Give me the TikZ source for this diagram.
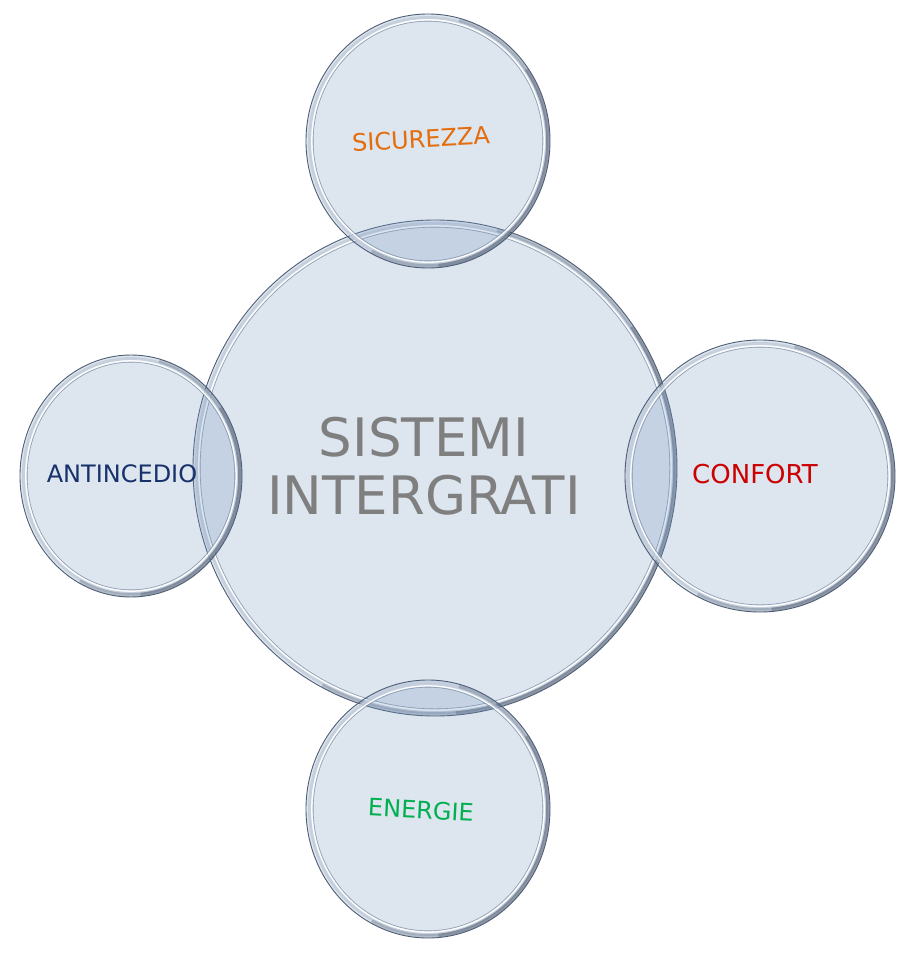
\documentclass[tikz,border=0pt]{standalone}
\usepackage{fontspec}
\setmainfont{DejaVu Sans}
\definecolor{bfill}{HTML}{7B9BC3}
\definecolor{bline}{HTML}{4F5E74}
\definecolor{brim}{HTML}{C3CDDA}
\definecolor{binner}{HTML}{8393A9}
\definecolor{bshadow}{HTML}{36445A}
\definecolor{corange}{HTML}{E46C0A}
\definecolor{cnavy}{HTML}{17326B}
\definecolor{cred}{HTML}{CC0000}
\definecolor{cgreen}{HTML}{00B050}
\definecolor{cgray}{HTML}{7F7F7F}
\newcommand\mybubble[5]{%
  \coordinate (#1) at (#2,#3);
  \fill[bfill, fill opacity=0.25] (#1) ellipse [x radius=#4, y radius=#5];
  \draw[brim, line width=3, opacity=0.85] (#1) ellipse [x radius=#4-3.5, y radius=#5-3.5];
  \draw[bshadow, line width=3.6, opacity=0.25] (#1) ++(-75:#4-2 and #5-2) arc[start angle=-75, end angle=118, x radius=#4-2, y radius=#5-2];
  \draw[bshadow, line width=3.6, opacity=0.3] (#1) ++(-35:#4-2 and #5-2) arc[start angle=-35, end angle=85, x radius=#4-2, y radius=#5-2];
  \draw[white, line width=1.3, opacity=0.95] (#1) ellipse [x radius=#4-5.8, y radius=#5-5.8];
  \draw[binner, line width=0.6, opacity=0.9] (#1) ellipse [x radius=#4-7.2, y radius=#5-7.2];
  \draw[bline, line width=0.9] (#1) ellipse [x radius=#4, y radius=#5];
}
\begin{document}
\begin{tikzpicture}[x=1pt,y=-1pt,
  lbl/.style={inner sep=0pt, font=\fontsize{24}{28}\selectfont},
  mainlbl/.style={inner sep=0pt, align=center, text=cgray, font=\fontsize{53}{58}\selectfont}]
\useasboundingbox (0,0) rectangle (915,958);
\fill[white] (0,0) rectangle (915,958);
\mybubble{main}{435}{468}{242}{248}
\mybubble{top}{428}{141}{122}{127}
\mybubble{left}{131}{476}{111}{121}
\mybubble{right}{760}{476}{135}{136}
\mybubble{bottom}{428}{809}{122}{129}
\node[mainlbl] (tmain) at (424,466) {SISTEMI\\INTERGRATI};
\node[lbl, text=corange, rotate=3] (ttop) at (421,139) {SICUREZZA};
\node[lbl, text=cnavy] (tleft) at (122,474) {ANTINCEDIO};
\node[lbl, text=cred, font=\fontsize{26}{30}\selectfont] (tright) at (755,474) {CONFORT};
\node[lbl, text=cgreen, rotate=-3] (tbottom) at (421,810) {ENERGIE};
\end{tikzpicture}
\end{document}
